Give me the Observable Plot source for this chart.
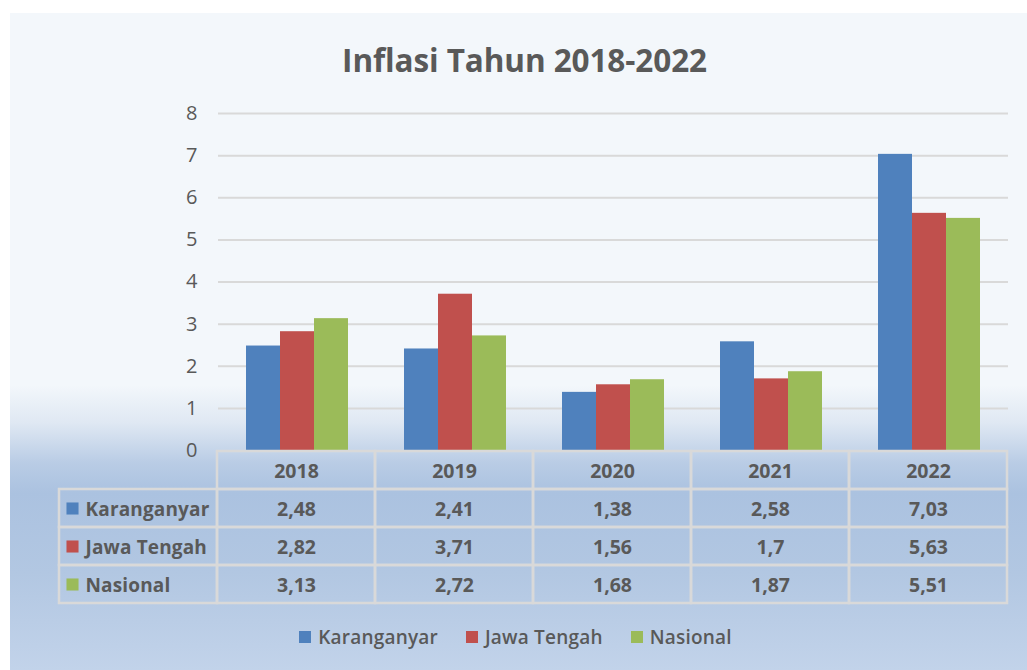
<!DOCTYPE html>
<html>
<head>
<meta charset="utf-8">
<script src="https://cdn.jsdelivr.net/npm/d3@7"></script>
<script src="https://cdn.jsdelivr.net/npm/@observablehq/plot@0.6"></script>
<style>
  html, body { margin: 0; padding: 0; background: #ffffff; }
  body { width: 1027px; height: 670px; position: relative; overflow: hidden; font-family: "Open Sans", sans-serif; }
  #panel { position: absolute; left: 10px; top: 13px; width: 1017px; height: 657px;
    background: linear-gradient(to bottom, #f3f7fb 0px, #f3f7fb 372px, #dfe8f3 410px, #b9cce5 450px, #abc2e0 480px, #b2c7e2 560px, #c2d3ea 657px); }
  #title { position: absolute; left: 0; top: 38px; width: 1049px; text-align: center; font-size: 31.5px; font-weight: 700; color: #595959; letter-spacing: -0.1px; }
  #chart { position: absolute; left: 0; top: 90px; }
  #table { position: absolute; left: 0; top: 440px; }
  #legend { position: absolute; left: 0; top: 624px; width: 1031px; display: flex; justify-content: center; gap: 28px; font-size: 19px; font-weight: 600; color: #595959; letter-spacing: 0.2px; }
  #legend .item { display: flex; align-items: center; gap: 7px; }
  #legend .sw { width: 12px; height: 12px; display: inline-block; }
</style>
</head>
<body>
<div id="panel"></div>
<div id="title">Inflasi Tahun 2018-2022</div>
<div id="chart"></div>
<div id="table"></div>
<div id="legend"></div>
<script>
const years = ["2018", "2019", "2020", "2021", "2022"];
const seriesNames = ["Karanganyar", "Jawa Tengah", "Nasional"];
const colors = ["#4f81bd", "#c0504d", "#9bbb59"];
const karanganyar = [2.48, 2.41, 1.38, 2.58, 7.03];
const jawaTengah = [2.82, 3.71, 1.56, 1.70, 5.63];
const nasional = [3.13, 2.72, 1.68, 1.87, 5.51];
const yTicks = [0, 1, 2, 3, 4, 5, 6, 7, 8];

const seriesValues = [karanganyar, jawaTengah, nasional];
const data = [];
seriesNames.forEach((s, i) => years.forEach((y, j) => data.push({year: y, series: s, value: seriesValues[i][j]})));

const textColor = "#595959";
const fontFam = "'Open Sans', sans-serif";

const chart = Plot.plot({
  width: 1027,
  height: 385,
  marginLeft: 218,
  marginRight: 19,
  marginTop: 23,
  marginBottom: 25,
  style: {background: "transparent", fontFamily: fontFam, fontSize: "20px", color: textColor},
  fx: {domain: years, padding: 0, axis: null},
  x: {domain: seriesNames, paddingInner: 0, paddingOuter: 0.79, axis: null},
  y: {domain: [0, 8], ticks: yTicks, tickSize: 0, tickPadding: 21, label: null, tickFormat: d => String(d)},
  color: {domain: seriesNames, range: colors},
  marks: [
    Plot.gridY(yTicks.slice(1), {stroke: "#d9d9d9", strokeOpacity: 1, strokeWidth: 2}),
    Plot.barY(data, {fx: "year", x: "series", y: "value", fill: "series", inset: 0}),
    Plot.axisY({ticks: yTicks, tickSize: 0, tickPadding: 21, label: null, fill: textColor, fontSize: 20})
  ]
});
document.getElementById("chart").appendChild(chart);

// Data table drawn with Plot
const cols = ["label", ...years];
const rows = ["header", ...seriesNames];
const cells = [];
years.forEach(y => cells.push({col: y, row: "header", text: y}));
seriesNames.forEach((s, i) => {
  cells.push({col: "label", row: s, text: s, color: colors[i]});
  years.forEach((y, j) => cells.push({col: y, row: s, text: String(seriesValues[i][j]).replace(".", ",")}));
});
const valueCells = cells.filter(c => c.col !== "label");
const labelCells = cells.filter(c => c.col === "label");

const table = Plot.plot({
  width: 1027,
  height: 175,
  marginLeft: 58,
  marginRight: 19,
  marginTop: 11,
  marginBottom: 12,
  style: {background: "transparent", fontFamily: fontFam, color: textColor},
  x: {domain: cols, padding: 0, axis: null},
  y: {domain: rows, padding: 0, axis: null},
  marks: [
    Plot.cell(cells, {x: "col", y: "row", fill: "none", stroke: "#d9d9d9", strokeWidth: 2.5}),
    Plot.text(valueCells, {x: "col", y: "row", text: "text", fill: textColor, fontSize: 19.5, fontWeight: 700, dy: 1}),
    Plot.dot(labelCells, {x: "col", y: "row", symbol: "square", r: 6.8, fill: d => d.color, stroke: "none", dx: -66}),
    Plot.text(labelCells, {x: "col", y: "row", text: "text", fill: textColor, fontSize: 19, fontWeight: 700, textAnchor: "start", dx: -53, dy: 1})
  ]
});
document.getElementById("table").appendChild(table);
d3.select(table).selectAll("g[aria-label=text]:last-of-type text").style("letter-spacing", "0.15px");

// Bottom legend
const legend = document.getElementById("legend");
seriesNames.forEach((s, i) => {
  const item = document.createElement("div");
  item.className = "item";
  const sw = document.createElement("span");
  sw.className = "sw";
  sw.style.background = colors[i];
  const t = document.createElement("span");
  t.textContent = s;
  item.appendChild(sw); item.appendChild(t);
  legend.appendChild(item);
});
</script>
</body>
</html>
